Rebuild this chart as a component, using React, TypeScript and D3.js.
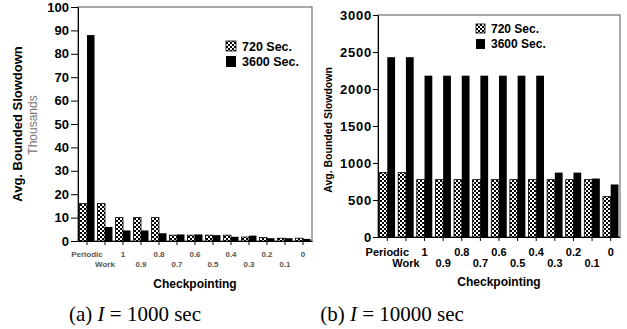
import React, { useRef, useEffect } from "react";
import * as d3 from "d3";

const categories = ["Periodic", "Work", "1", "0.9", "0.8", "0.7", "0.6", "0.5", "0.4", "0.3", "0.2", "0.1", "0"];
const seriesNames = ["720 Sec.", "3600 Sec."];

// (a) I = 1000 sec, values in thousands
const slowdownA720 = [16, 16, 10, 10, 10, 2.5, 2.5, 2.5, 2.5, 1.7, 1.5, 1.2, 1.2];
const slowdownA3600 = [88, 6, 4.5, 4.5, 3.3, 2.8, 2.8, 2.5, 1.8, 2.3, 1.2, 1.2, 0.9];
const ticksA = [0, 10, 20, 30, 40, 50, 60, 70, 80, 90, 100];

// (b) I = 10000 sec
const slowdownB720 = [870, 870, 775, 775, 775, 775, 775, 775, 775, 775, 775, 775, 545];
const slowdownB3600 = [2430, 2430, 2180, 2180, 2180, 2180, 2180, 2180, 2180, 870, 870, 790, 710];
const ticksB = [0, 500, 1000, 1500, 2000, 2500, 3000];

const FONT = "Liberation Sans, Arial, sans-serif";

function drawPanel(svg, o) {
  const x = d3.scaleBand().domain(categories).range([o.left, o.right]);
  const xs = d3.scaleBand().domain(seriesNames).range([0, x.bandwidth()]).paddingOuter(0.2);
  const y = d3.scaleLinear().domain([0, o.max]).range([o.bottom, o.top]);

  const g = svg.append("g");

  g.append("rect")
    .attr("x", o.left)
    .attr("y", o.top)
    .attr("width", o.right - o.left)
    .attr("height", o.bottom - o.top)
    .attr("fill", "none")
    .attr("stroke", "#555")
    .attr("stroke-width", 1);

  const rows = categories.map((c, i) => ({ c, a: o.v720[i], b: o.v3600[i] }));

  g.selectAll(".b720")
    .data(rows)
    .enter()
    .append("rect")
    .attr("x", d => x(d.c) + xs(seriesNames[0]))
    .attr("y", d => y(d.a))
    .attr("width", xs.bandwidth())
    .attr("height", d => o.bottom - y(d.a))
    .attr("fill", "url(#checker)")
    .attr("stroke", "#000")
    .attr("stroke-width", 0.8);

  g.selectAll(".b3600")
    .data(rows)
    .enter()
    .append("rect")
    .attr("x", d => x(d.c) + xs(seriesNames[1]))
    .attr("y", d => y(d.b))
    .attr("width", xs.bandwidth())
    .attr("height", d => o.bottom - y(d.b))
    .attr("fill", "#000");

  const xAxis = g.append("g")
    .attr("transform", `translate(0,${o.bottom})`)
    .call(d3.axisBottom(x).tickSize(4).tickSizeOuter(0));
  xAxis.select(".domain").attr("stroke", "#000");
  xAxis.selectAll("text")
    .attr("y", (d, i) => (i % 2 ? o.row2 : o.row1))
    .attr("font-family", FONT)
    .attr("font-size", o.xFont)
    .attr("font-weight", "bold")
    .attr("fill", o.xColor);

  const yAxis = g.append("g")
    .attr("transform", `translate(${o.left},0)`)
    .call(d3.axisLeft(y).tickValues(o.ticks).tickFormat(d3.format("d")).tickSize(o.yTick).tickPadding(o.yPad).tickSizeOuter(0));
  yAxis.select(".domain").attr("stroke", "#000");
  yAxis.selectAll("text")
    .attr("font-family", FONT)
    .attr("font-size", o.yFont)
    .attr("font-weight", "bold")
    .attr("letter-spacing", o.yLetter)
    .attr("fill", "#000");

  // legend
  g.append("rect")
    .attr("x", o.legX).attr("y", o.legY)
    .attr("width", o.sw).attr("height", o.sw)
    .attr("fill", "url(#checker)").attr("stroke", "#000").attr("stroke-width", 0.8);
  g.append("rect")
    .attr("x", o.legX).attr("y", o.legY + o.legGap)
    .attr("width", o.sw).attr("height", o.sw + 1)
    .attr("fill", "#000");
  seriesNames.forEach((s, i) => {
    g.append("text")
      .attr("x", o.legX + o.sw + 6)
      .attr("y", o.legY + o.sw + i * o.legGap)
      .attr("font-family", FONT)
      .attr("font-size", o.legFont)
      .attr("font-weight", "bold")
      .text(s);
  });

  g.append("text")
    .attr("x", (o.left + o.right) / 2)
    .attr("y", o.xTitleY)
    .attr("text-anchor", "middle")
    .attr("font-family", FONT)
    .attr("font-size", 12)
    .attr("font-weight", "bold")
    .text("Checkpointing");

  g.append("text")
    .attr("transform", `translate(${o.yTitleX},${o.yTitleY}) rotate(-90)`)
    .attr("text-anchor", "middle")
    .attr("font-family", FONT)
    .attr("font-size", o.yTitleFont)
    .attr("font-weight", "bold")
    .text("Avg. Bounded Slowdown");

  const cap = g.append("text")
    .attr("x", o.capX)
    .attr("y", 321)
    .attr("text-anchor", "middle")
    .attr("font-family", "Liberation Serif, Times New Roman, serif")
    .attr("font-size", 21);
  cap.append("tspan").text(o.capLabel + " ");
  cap.append("tspan").attr("font-style", "italic").text("I");
  cap.append("tspan").text(" = " + o.capValue + " sec");

  return g;
}

const App = () => {
  const svgRef = useRef();

  useEffect(() => {
    const svg = d3.select(svgRef.current);
    svg.selectAll("*").remove();

    const pat = svg.append("defs")
      .append("pattern")
      .attr("id", "checker")
      .attr("width", 4)
      .attr("height", 4)
      .attr("patternUnits", "userSpaceOnUse");
    pat.append("rect").attr("width", 4).attr("height", 4).attr("fill", "#fff");
    pat.append("rect").attr("width", 2).attr("height", 2).attr("fill", "#000");
    pat.append("rect").attr("x", 2).attr("y", 2).attr("width", 2).attr("height", 2).attr("fill", "#000");

    const a = drawPanel(svg, {
      left: 78, right: 312, top: 7, bottom: 241, max: 100, ticks: ticksA,
      v720: slowdownA720, v3600: slowdownA3600,
      row1: 10, row2: 20, xFont: 8, xColor: "#555",
      yFont: 13, yTick: 7, yPad: 2, yLetter: 0,
      legX: 226, legY: 41, sw: 10, legGap: 15, legFont: 12.5,
      xTitleY: 288, yTitleX: 22, yTitleY: 124, yTitleFont: 13,
      capX: 135, capLabel: "(a)", capValue: "1000",
    });
    a.append("text")
      .attr("transform", "translate(37,125) rotate(-90)")
      .attr("text-anchor", "middle")
      .attr("font-family", FONT)
      .attr("font-size", 12)
      .attr("fill", "#777")
      .text("Thousands");

    drawPanel(svg, {
      left: 378, right: 620, top: 15, bottom: 237, max: 3000, ticks: ticksB,
      v720: slowdownB720, v3600: slowdownB3600,
      row1: 11.5, row2: 22.5, xFont: 11, xColor: "#000",
      yFont: 13, yTick: 5, yPad: 1, yLetter: 0.8,
      legX: 476, legY: 24, sw: 9, legGap: 15, legFont: 12,
      xTitleY: 286, yTitleX: 332, yTitleY: 130, yTitleFont: 10.5,
      capX: 392, capLabel: "(b)", capValue: "10000",
    });
  }, []);

  return (
    <svg
      ref={svgRef}
      width={627}
      height={329}
      style={{ position: "absolute", left: 0, top: 0, background: "#fff" }}
    ></svg>
  );
};

export default App;
